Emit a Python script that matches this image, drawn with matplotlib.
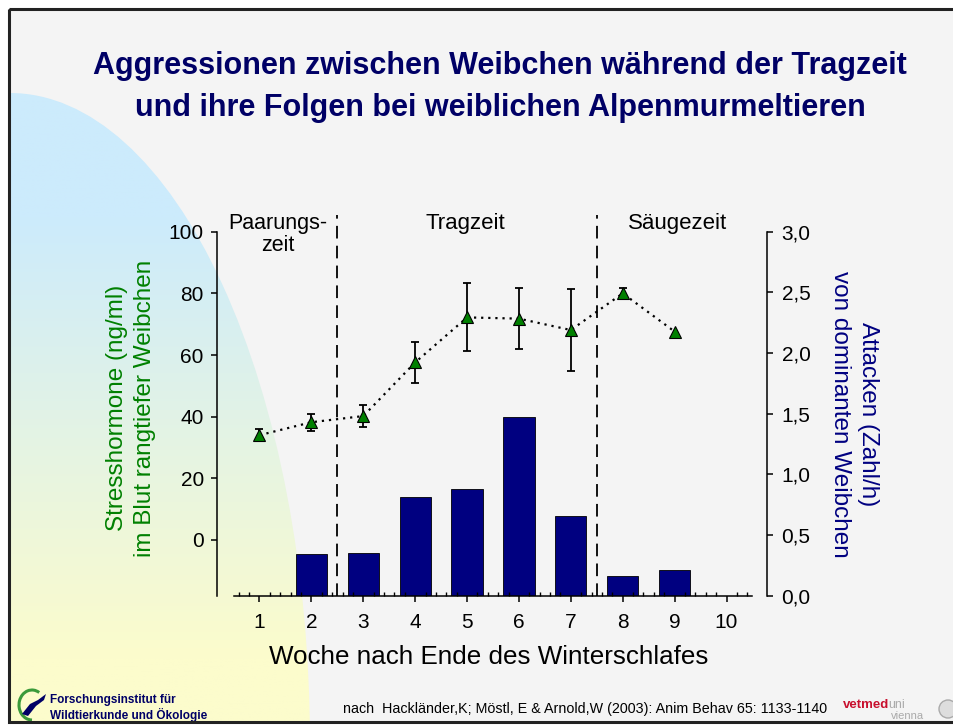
import numpy as np
import matplotlib
matplotlib.use("Agg")
import matplotlib.pyplot as plt
from matplotlib import font_manager
from matplotlib.patches import Ellipse, Rectangle, Arc, Circle, Polygon
from matplotlib.ticker import FixedLocator, FuncFormatter

# data
weeks = [1, 2, 3, 4, 5, 6, 7, 8, 9]
stress = [34, 38.2, 40.2, 57.6, 72.2, 71.8, 68.1, 80.0, 67.6]
stress_err = [2.0, 2.7, 3.7, 6.7, 11.0, 9.8, 13.2, 1.6]
bar_weeks = [2, 3, 4, 5, 6, 7, 8, 9]
attacks = [0.34, 0.35, 0.81, 0.88, 1.47, 0.66, 0.16, 0.21]
phase_bounds = [2.5, 7.5]
left_ticks = [0, 20, 40, 60, 80, 100]
right_ticks = [0.0, 0.5, 1.0, 1.5, 2.0, 2.5, 3.0]
x_ticks = list(range(1, 11))

names = {f.name for f in font_manager.fontManager.ttflist}
narrow = 'Liberation Sans Narrow' if 'Liberation Sans Narrow' in names else None
plt.rcParams['font.family'] = ['Liberation Sans', 'DejaVu Sans']

fig = plt.figure(figsize=(9.54, 7.25), dpi=100)
fig.patch.set_facecolor('white')

# slide background in pixel units
bg = fig.add_axes([0, 0, 1, 1])
bg.set_xlim(0, 954)
bg.set_ylim(725, 0)
bg.axis('off')
bg.add_patch(Rectangle((9, 9), 960, 713, facecolor='#f4f4f4', edgecolor='none', zorder=0))

# blue-to-yellow gradient quarter shape
grad = np.linspace(0, 1, 256)[:, None]
c_top = np.array([204, 235, 252]) / 255
c_bot = np.array([252, 252, 204]) / 255
t = np.clip((grad - 0.2) / 0.7, 0, 1)
img = c_top[None, None, :] * (1 - t[..., None]) + c_bot[None, None, :] * t[..., None]
im = bg.imshow(img, extent=(9, 330, 722, 90), aspect='auto', zorder=1)
clip = Ellipse((10, 745), 600, 1304, transform=bg.transData, facecolor='none')
im.set_clip_path(clip)

bg.add_patch(Rectangle((9, 9), 960, 713, facecolor='none', edgecolor='#222222', lw=2.2, zorder=5))

# title
if narrow:
    title_kw = dict(family=[narrow, 'DejaVu Sans'], fontsize=25)
    logo_kw = dict(family=[narrow, 'DejaVu Sans'], fontsize=9.5)
else:
    title_kw = dict(fontsize=22)
    logo_kw = dict(fontsize=8.5)
bg.text(500, 66, 'Aggressionen zwischen Weibchen während der Tragzeit', ha='center',
        va='center', color='#000066', fontweight='bold', **title_kw)
bg.text(500, 108, 'und ihre Folgen bei weiblichen Alpenmurmeltieren', ha='center',
        va='center', color='#000066', fontweight='bold', **title_kw)

# main axes
ax = fig.add_axes([217 / 954, 129.3 / 725, 550 / 954, 364 / 725])
ax2 = ax.twinx()
ax.set_zorder(ax2.get_zorder() + 1)
ax.patch.set_visible(False)
ax2.patch.set_visible(False)

ymin = -18.07
ax.set_xlim(0.181, 10.78)
ax.set_ylim(ymin, 100)
ax2.set_ylim(0, 3)

ax2.bar(bar_weeks, attacks, width=0.6, color='#000080', edgecolor='black', lw=0.6)

ax.errorbar(weeks[:8], stress[:8], yerr=stress_err, fmt='none', ecolor='black',
            elinewidth=1.3, capsize=3, capthick=1.3, zorder=3)
ax.plot(weeks, stress, linestyle=(0, (1, 2.2)), lw=1.6, color='black',
        marker='^', ms=9, mfc='#008000', mec='black', mew=0.8, zorder=4)

for xb in phase_bounds:
    ax.plot([xb, xb], [ymin, 105.5], color='black', lw=1.3, ls=(0, (7, 4)),
            clip_on=False, zorder=2)

for s in ['top', 'right']:
    ax.spines[s].set_visible(False)
for s in ['top', 'left', 'bottom']:
    ax2.spines[s].set_visible(False)
ax.spines['bottom'].set_bounds(0.5, 10.5)
for sp in [ax.spines['left'], ax.spines['bottom'], ax2.spines['right']]:
    sp.set_linewidth(1.1)

ax.set_yticks(left_ticks)
ax.set_xticks(x_ticks)
minor = [v for v in np.round(np.arange(0.6, 10.5, 0.2), 1) if abs(v - round(v)) > 0.01]
ax.xaxis.set_minor_locator(FixedLocator(minor))
ax.tick_params(axis='both', which='major', labelsize=15, length=4.5, width=1.1,
               direction='out', colors='black')
ax.tick_params(axis='x', which='major', pad=8)
ax.tick_params(axis='x', which='minor', length=3, width=1, direction='in')
ax.tick_params(axis='y', which='major', pad=5)
ax2.set_yticks(right_ticks)
ax2.yaxis.set_major_formatter(FuncFormatter(lambda v, p: f'{v:.1f}'.replace('.', ',')))
ax2.tick_params(axis='y', labelsize=15, length=4.5, width=1.1, pad=6)

# phase names
ax.text(1.35, 106, 'Paarungs-\nzeit', ha='center', va='top', fontsize=15.5, linespacing=1.05)
ax.text(4.96, 106, 'Tragzeit', ha='center', va='top', fontsize=16)
ax.text(9.06, 106, 'Säugezeit', ha='center', va='top', fontsize=16)

# axis labels
bg.text(131, 408, 'Stresshormone (ng/ml)\nim Blut rangtiefer Weibchen', rotation=90,
        ha='center', va='center', color='#008000', fontsize=17.5, linespacing=1.35)
bg.text(854, 414, 'Attacken (Zahl/h)\nvon dominanten Weibchen', rotation=270,
        ha='center', va='center', color='#000080', fontsize=17.5, linespacing=1.35)
bg.text(489, 657, 'Woche nach Ende des Winterschlafes', ha='center', va='center',
        fontsize=18.7)

# footer
bg.text(343, 709, 'nach  Hackländer,K; Möstl, E & Arnold,W (2003): Anim Behav 65: 1133-1140',
        ha='left', va='center', fontsize=10.3)
bg.text(843, 705, 'vetmed', ha='left', va='center', fontsize=9.5, fontweight='bold',
        color='#c8102e')
bg.text(888, 705, 'uni', ha='left', va='center', fontsize=9, color='#aaaaaa')
bg.text(891, 716, 'vienna', ha='left', va='center', fontsize=8, color='#aaaaaa')
bg.add_patch(Circle((948, 709), 9, facecolor='#dddddd', edgecolor='#aaaaaa', lw=1, zorder=3))

bg.text(50, 700, 'Forschungsinstitut für', ha='left', va='center',
        fontweight='bold', color='#000066', **logo_kw)
bg.text(50, 715, 'Wildtierkunde und Ökologie', ha='left', va='center',
        fontweight='bold', color='#000066', **logo_kw)
bg.add_patch(Arc((32, 705), 26, 30, theta1=90, theta2=300, color='#3a9a3a', lw=2.2, zorder=3))
bg.add_patch(Polygon([[22, 714], [30, 704], [38, 700], [46, 694], [44, 700], [36, 706], [28, 716]],
                     closed=True, facecolor='#000066', edgecolor='none', zorder=4))

fig.savefig('out.png', dpi=100)
